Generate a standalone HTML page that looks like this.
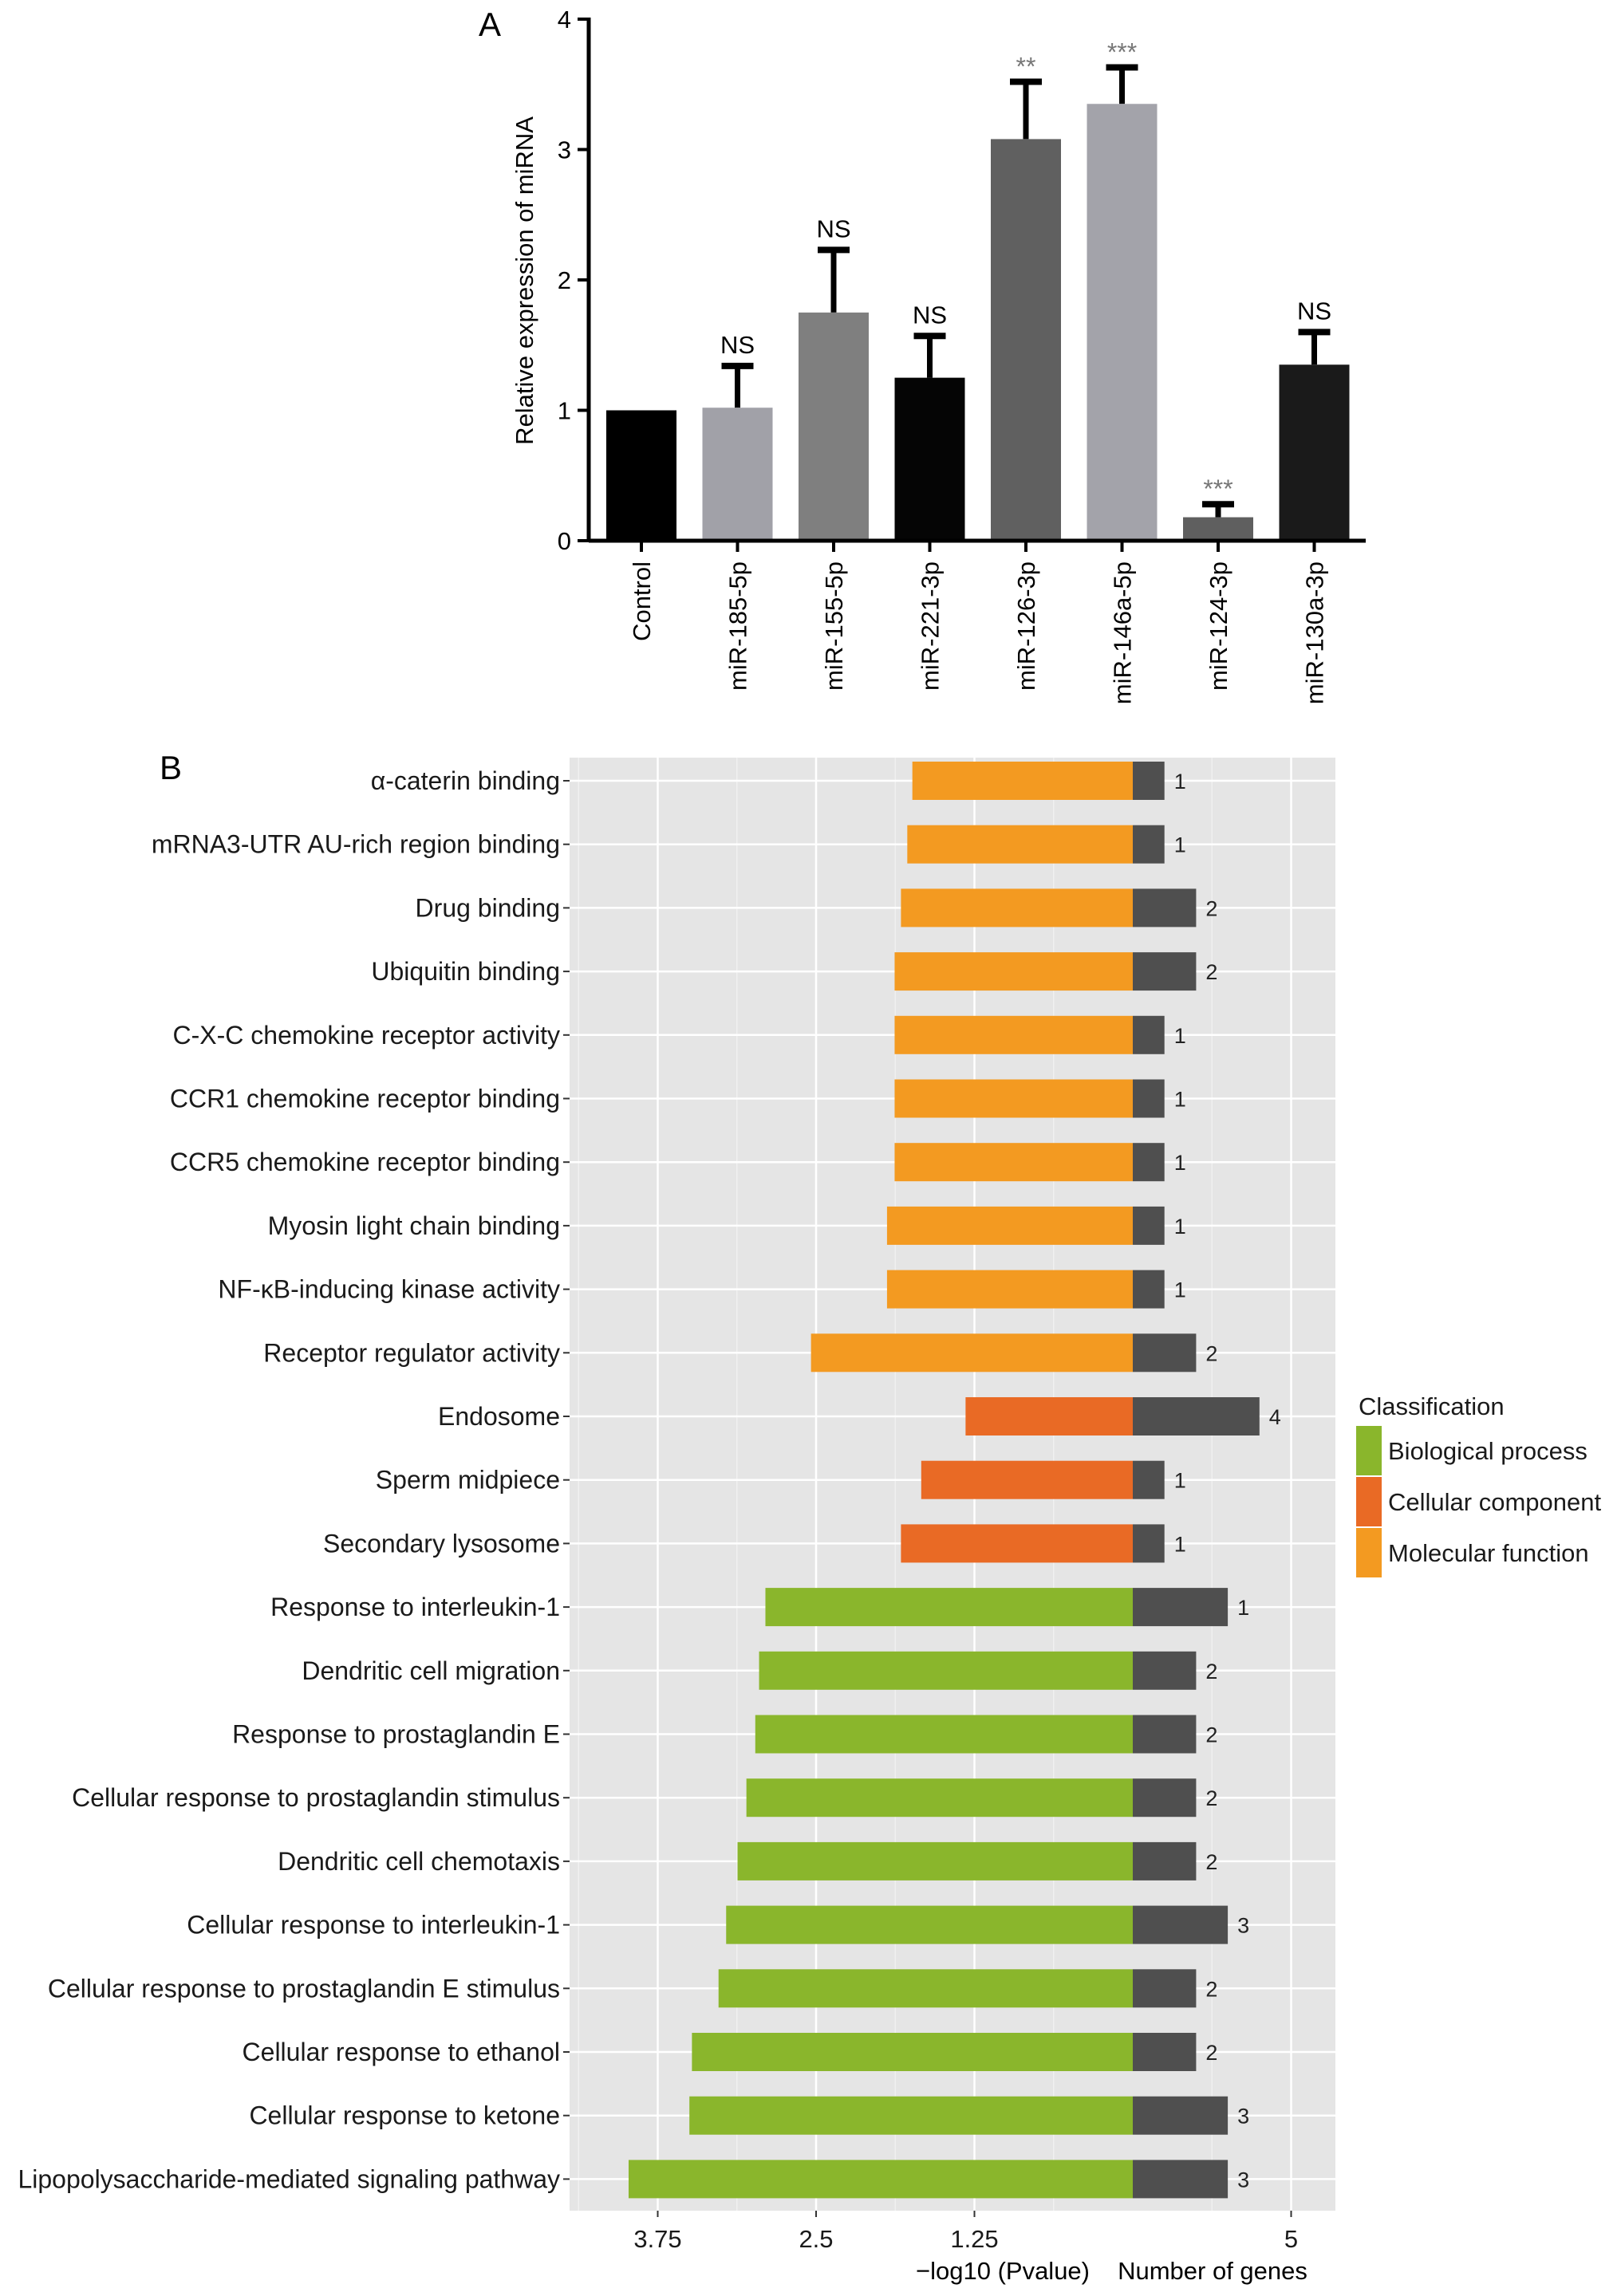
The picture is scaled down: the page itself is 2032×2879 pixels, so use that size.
<!DOCTYPE html>
<html><head><meta charset="utf-8">
<style>
html,body{margin:0;padding:0;background:#fff;}
svg{display:block;font-family:"Liberation Sans",sans-serif;}
</style></head>
<body>
<svg id="fig" width="2032" height="2879" viewBox="0 0 2032 2879" xmlns="http://www.w3.org/2000/svg">
<g id="panelA"></g>
<g id="panelB"></g>
</svg>
<script>
// ---- Panel A data ----
const aCategories = ["Control","miR-185-5p","miR-155-5p","miR-221-3p","miR-126-3p","miR-146a-5p","miR-124-3p","miR-130a-3p"];
const aValues = [1.0, 1.02, 1.75, 1.25, 3.08, 3.35, 0.18, 1.35];
const aErrorTops = [null, 1.34, 2.23, 1.57, 3.52, 3.63, 0.28, 1.60];
const aAnnotations = ["", "NS", "NS", "NS", "**", "***", "***", "NS"];
const aColors = ["#000000","#a1a1a8","#7f7f7f","#050505","#606060","#a3a3aa","#5f5f5f","#1a1a1a"];
const aTicks = [0,1,2,3,4];

// ---- Panel B data ----
const bTerms = ["α-caterin binding","mRNA3-UTR AU-rich region binding","Drug binding","Ubiquitin binding","C-X-C chemokine receptor activity","CCR1 chemokine receptor binding","CCR5 chemokine receptor binding","Myosin light chain binding","NF-κB-inducing kinase activity","Receptor regulator activity","Endosome","Sperm midpiece","Secondary lysosome","Response to interleukin-1","Dendritic cell migration","Response to prostaglandin E","Cellular response to prostaglandin stimulus","Dendritic cell chemotaxis","Cellular response to interleukin-1","Cellular response to prostaglandin E stimulus","Cellular response to ethanol","Cellular response to ketone","Lipopolysaccharide-mediated signaling pathway"];
const bClasses = ["MF","MF","MF","MF","MF","MF","MF","MF","MF","MF","CC","CC","CC","BP","BP","BP","BP","BP","BP","BP","BP","BP","BP"];
const bLogP = [1.74,1.78,1.83,1.88,1.88,1.88,1.88,1.94,1.94,2.54,1.32,1.67,1.83,2.90,2.95,2.98,3.05,3.12,3.21,3.27,3.48,3.50,3.98];
const bGeneBars = [1,1,2,2,1,1,1,1,1,2,4,1,1,3,2,2,2,2,3,2,2,3,3];
const bGeneLabels = ["1","1","2","2","1","1","1","1","1","2","4","1","1","1","2","2","2","2","3","2","2","3","3"];
const bTickLabels = ["3.75","2.5","1.25","5"];
const bTickValues = [-3.75,-2.5,-1.25,5*0.25];
const classColors = {BP:"#8ab62c", CC:"#e96a25", MF:"#f39a21"};
const legendKeys = ["BP","CC","MF"];
const legendLabels = ["Biological process","Cellular component","Molecular function"];

const NS = "http://www.w3.org/2000/svg";
function mk(tag, attrs, parent, text){
  const e = document.createElementNS(NS, tag);
  for (const k in attrs) e.setAttribute(k, attrs[k]);
  if (text !== undefined) e.textContent = text;
  parent.appendChild(e);
  return e;
}

// ===== Panel A =====
(function(){
  const g = document.getElementById('panelA');
  const x0 = 738, y0 = 678, unit = 163.5, step = 120.5, firstC = 804, bw = 88;
  const yA = v => y0 - v*unit;
  const xA = i => firstC + i*step;
  let t = mk('text',{x:600,y:45,'font-size':42},g,'A');
  
  
  aCategories.forEach((c,i)=>{
    const cx = xA(i);
    if (aErrorTops[i] !== null){
      const eb = mk('g',{},g);
      
      
      mk('line',{x1:cx,x2:cx,y1:yA(aValues[i]),y2:yA(aErrorTops[i]),stroke:'#000','stroke-width':7},eb);
      mk('line',{x1:cx-20,x2:cx+20,y1:yA(aErrorTops[i]),y2:yA(aErrorTops[i]),stroke:'#000','stroke-width':8},eb);
    }
    const r = mk('rect',{x:cx-bw/2,y:yA(aValues[i]),width:bw,height:yA(0)-yA(aValues[i]),fill:aColors[i]},g);
    
    
    if (aAnnotations[i]){
      const isNS = aAnnotations[i]==='NS';
      const a = mk('text',{x:cx,y:yA(aErrorTops[i])-(isNS?16:8),'text-anchor':'middle','font-size':isNS?31:32,fill:isNS?'#000':'#777'},g,aAnnotations[i]);
      
      
    }
    mk('line',{x1:cx,x2:cx,y1:y0,y2:y0+14,stroke:'#000','stroke-width':4},g);
    const lab = mk('text',{x:0,y:0,'text-anchor':'end','font-size':31,transform:`translate(${cx+11},${y0+26}) rotate(-90)`},g,c);
    
    
  });
  mk('line',{x1:x0,x2:x0,y1:yA(4)-2,y2:y0+2,stroke:'#000','stroke-width':5},g);
  mk('line',{x1:x0,x2:1712,y1:y0,y2:y0,stroke:'#000','stroke-width':5},g);
  aTicks.forEach(v=>{
    mk('line',{x1:x0-14,x2:x0,y1:yA(v),y2:yA(v),stroke:'#000','stroke-width':4},g);
    const tl = mk('text',{x:x0-22,y:yA(v)+11,'text-anchor':'end','font-size':31},g,String(v));
    
    
  });
  const yt = mk('text',{x:0,y:0,'text-anchor':'middle','font-size':31,transform:'translate(668,352) rotate(-90)'},g,'Relative expression of miRNA');
  
  
})();

// ===== Panel B =====
(function(){
  const g = document.getElementById('panelB');
  const left = 714, right = 1674, top = 950, bottom = 2772;
  const zeroX = 1420, pxPerUnit = 158.8, geneUnit = 0.25;
  const xB = v => zeroX + v*pxPerUnit;
  const row0 = 979, rowStep = 79.7, bh = 48;
  const yB = i => row0 + i*rowStep;
  const bt = mk('text',{x:200,y:977,'font-size':42},g,'B');
  
  
  const bg = mk('rect',{x:left,y:top,width:right-left,height:bottom-top,fill:'#e5e5e5'},g);
  
  
  bTickValues.forEach(v=>{
    mk('line',{x1:xB(v),x2:xB(v),y1:top,y2:bottom,stroke:'#fff','stroke-width':2.5},g);
  });
  bTickValues.slice(0,3).forEach(v=>{
    mk('line',{x1:xB(v+0.625),x2:xB(v+0.625),y1:top,y2:bottom,stroke:'#f2f2f2','stroke-width':1.2},g);
  });
  mk('line',{x1:xB(-4.375),x2:xB(-4.375),y1:top,y2:bottom,stroke:'#f2f2f2','stroke-width':1.2},g);
  mk('line',{x1:xB(0.625),x2:xB(0.625),y1:top,y2:bottom,stroke:'#f2f2f2','stroke-width':1.2},g);
  bTerms.forEach((term,i)=>{
    const y = yB(i);
    mk('line',{x1:left,x2:right,y1:y,y2:y,stroke:'#fff','stroke-width':2.5},g);
    const r = mk('rect',{x:xB(-bLogP[i]),y:y-bh/2,width:xB(0)-xB(-bLogP[i]),height:bh,fill:classColors[bClasses[i]]},g);
    
    
    const gb = mk('rect',{x:xB(0),y:y-bh/2,width:xB(bGeneBars[i]*geneUnit)-xB(0),height:bh,fill:'#4f4f4f'},g);
    
    
    const nl = mk('text',{x:xB(bGeneBars[i]*geneUnit)+12,y:y+10,'font-size':27,fill:'#222'},g,bGeneLabels[i]);
    
    
    mk('line',{x1:left-8,x2:left,y1:y,y2:y,stroke:'#333','stroke-width':2},g);
    const tl = mk('text',{x:left-12,y:y+11,'text-anchor':'end','font-size':32,fill:'#1a1a1a'},g,term);
    
    
  });
  bTickValues.forEach((v,k)=>{
    mk('line',{x1:xB(v),x2:xB(v),y1:bottom,y2:bottom+8,stroke:'#333','stroke-width':2},g);
    const t = mk('text',{x:xB(v),y:bottom+46,'text-anchor':'middle','font-size':31,fill:'#1a1a1a'},g,bTickLabels[k]);
    
    
  });
  const xt1 = mk('text',{x:1257,y:2858,'text-anchor':'middle','font-size':31},g,'\u2212log10 (Pvalue)');
  
  
  const xt2 = mk('text',{x:1520,y:2858,'text-anchor':'middle','font-size':31},g,'Number of genes');
  
  
  const lg = mk('g',{},g);
  
  
  mk('text',{x:1703,y:1774,'font-size':31,fill:'#1a1a1a'},lg,'Classification');
  legendKeys.forEach((k,i)=>{
    const ky = 1788 + i*64;
    const e = mk('g',{},lg);
    
    
    mk('rect',{x:1700,y:ky,width:32,height:62,fill:classColors[k]},e);
    mk('text',{x:1740,y:ky+42,'font-size':31,fill:'#1a1a1a'},e,legendLabels[i]);
  });
})();
</script>
</body></html>
